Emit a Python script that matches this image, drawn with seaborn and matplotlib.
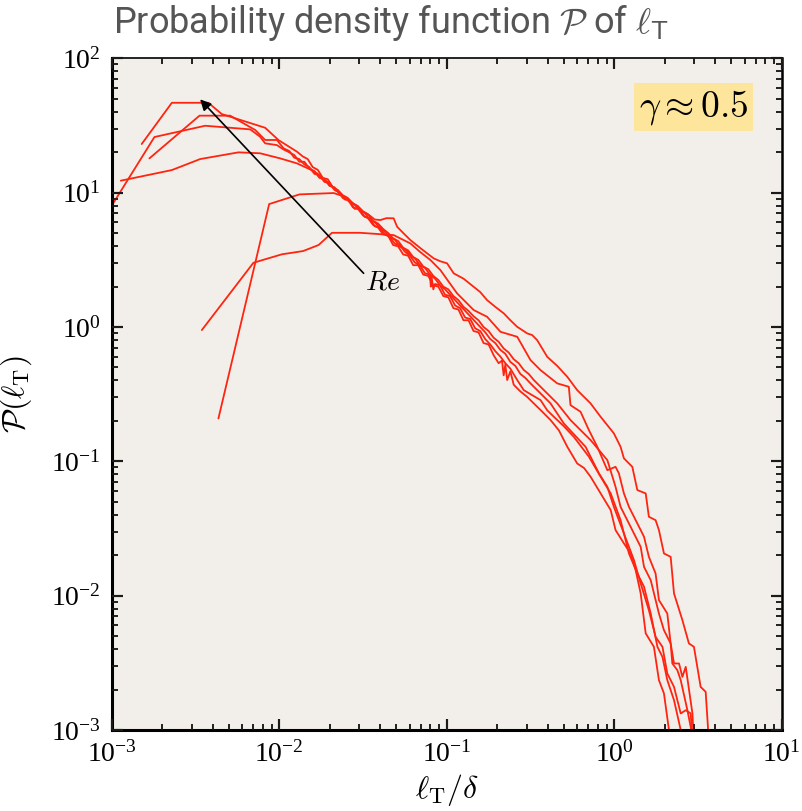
import numpy as np
import pandas as pd
import seaborn as sns
import matplotlib.pyplot as plt
from matplotlib.collections import LineCollection
from matplotlib.ticker import LogLocator, NullFormatter

# ---- data: (log10(l_T/delta), log10(P)) pairs ----
curve_A = [(-2.821, 1.362), (-2.641, 1.669), (-2.423, 1.669), (-2.343, 1.585), (-2.084, 1.483),
           (-2.004, 1.391), (-1.894, 1.305), (-1.86, 1.27), (-1.83, 1.25), (-1.80, 1.19), (-1.77, 1.17),
           (-1.74, 1.11), (-1.71, 1.10), (-1.68, 1.04), (-1.65, 1.01), (-1.62, 0.96), (-1.59, 0.95),
           (-1.56, 0.89), (-1.53, 0.88), (-1.50, 0.83), (-1.47, 0.81), (-1.44, 0.76), (-1.41, 0.74),
           (-1.38, 0.69), (-1.35, 0.68), (-1.32, 0.61), (-1.29, 0.60), (-1.26, 0.54), (-1.23, 0.53),
           (-1.20, 0.46), (-1.17, 0.46), (-1.14, 0.39), (-1.11, 0.38), (-1.08, 0.31), (-1.05, 0.30),
           (-1.02, 0.23), (-0.99, 0.22), (-0.96, 0.14), (-0.93, 0.13), (-0.90, 0.05), (-0.87, 0.05),
           (-0.84, -0.03), (-0.81, -0.04), (-0.78, -0.12), (-0.75, -0.13), (-0.72, -0.21), (-0.69, -0.27),
           (-0.67, -0.25), (-0.66, -0.36), (-0.65, -0.28), (-0.639, -0.395), (-0.62, -0.33), (-0.60, -0.43),
           (-0.56, -0.48), (-0.52, -0.52), (-0.480, -0.569), (-0.43, -0.63), (-0.380, -0.693), (-0.33, -0.77),
           (-0.280, -0.892), (-0.221, -1.016), (-0.18, -1.05), (-0.141, -1.115), (-0.081, -1.239),
           (-0.021, -1.363), (0.008, -1.512), (0.058, -1.611), (0.098, -1.686), (0.128, -1.810),
           (0.158, -1.984), (0.188, -2.281), (0.237, -2.381), (0.267, -2.629), (0.297, -2.728),
           (0.327, -3.001), (0.335, -3.1)]

curve_B = [(-2.775, 1.255), (-2.476, 1.573), (-2.293, 1.573), (-2.213, 1.516), (-2.143, 1.466),
           (-2.084, 1.392), (-2.014, 1.392), (-1.974, 1.330), (-1.94, 1.31), (-1.91, 1.26), (-1.88, 1.25),
           (-1.85, 1.21), (-1.82, 1.19), (-1.79, 1.14), (-1.76, 1.13), (-1.73, 1.08), (-1.70, 1.07),
           (-1.67, 1.02), (-1.64, 1.00), (-1.61, 0.95), (-1.58, 0.94), (-1.55, 0.88), (-1.52, 0.88),
           (-1.49, 0.82), (-1.46, 0.81), (-1.43, 0.75), (-1.40, 0.74), (-1.37, 0.69), (-1.34, 0.67),
           (-1.31, 0.62), (-1.28, 0.61), (-1.25, 0.56), (-1.22, 0.53), (-1.19, 0.48), (-1.16, 0.46),
           (-1.13, 0.40), (-1.10, 0.39), (-1.095, 0.30), (-1.09, 0.37), (-1.08, 0.28), (-1.07, 0.32),
           (-1.04, 0.31), (-1.01, 0.24), (-0.98, 0.23), (-0.95, 0.16), (-0.92, 0.14), (-0.89, 0.07),
           (-0.86, 0.06), (-0.83, -0.01), (-0.80, -0.03), (-0.77, -0.09), (-0.74, -0.13), (-0.71, -0.18),
           (-0.68, -0.22), (-0.65, -0.27), (-0.62, -0.31), (-0.579, -0.395), (-0.54, -0.47), (-0.50, -0.50),
           (-0.440, -0.544), (-0.40, -0.62), (-0.360, -0.669), (-0.30, -0.74), (-0.241, -0.818),
           (-0.151, -0.966), (-0.081, -1.115), (-0.021, -1.239), (0.038, -1.438), (0.088, -1.686),
           (0.138, -1.835), (0.178, -1.934), (0.218, -2.133), (0.258, -2.381), (0.288, -2.456),
           (0.317, -2.629), (0.357, -2.778), (0.397, -3.0), (0.40, -3.1)]

curve_C = [(-3.01, 0.883), (-2.745, 1.414), (-2.442, 1.498), (-2.173, 1.471), (-2.114, 1.416),
           (-2.084, 1.367), (-2.014, 1.354), (-1.975, 1.322), (-1.94, 1.30), (-1.91, 1.28), (-1.88, 1.23),
           (-1.85, 1.23), (-1.82, 1.18), (-1.79, 1.16), (-1.76, 1.11), (-1.73, 1.10), (-1.70, 1.05),
           (-1.67, 1.04), (-1.64, 0.99), (-1.61, 0.97), (-1.58, 0.93), (-1.55, 0.91), (-1.52, 0.87),
           (-1.49, 0.85), (-1.46, 0.80), (-1.43, 0.78), (-1.40, 0.74), (-1.37, 0.71), (-1.34, 0.67),
           (-1.31, 0.65), (-1.28, 0.60), (-1.25, 0.58), (-1.22, 0.54), (-1.19, 0.51), (-1.16, 0.46),
           (-1.13, 0.44), (-1.10, 0.39), (-1.07, 0.36), (-1.04, 0.31), (-1.01, 0.28), (-0.98, 0.24),
           (-0.95, 0.20), (-0.92, 0.16), (-0.89, 0.12), (-0.86, 0.08), (-0.83, 0.04), (-0.80, 0.00),
           (-0.77, -0.04), (-0.74, -0.09), (-0.71, -0.12), (-0.68, -0.17), (-0.65, -0.20), (-0.62, -0.26),
           (-0.59, -0.29), (-0.56, -0.35), (-0.53, -0.38), (-0.500, -0.420), (-0.380, -0.569),
           (-0.301, -0.718), (-0.171, -0.892), (-0.091, -1.090), (-0.041, -1.190), (-0.002, -1.339),
           (0.058, -1.537), (0.118, -1.736), (0.158, -1.909), (0.207, -2.108), (0.247, -2.307),
           (0.288, -2.381), (0.317, -2.579), (0.357, -2.679), (0.397, -2.877), (0.427, -2.853),
           (0.457, -2.877), (0.467, -3.1)]

curve_D = [(-2.946, 1.089), (-2.641, 1.168), (-2.472, 1.250), (-2.243, 1.300), (-2.114, 1.293),
           (-1.994, 1.255), (-1.894, 1.218), (-1.795, 1.161), (-1.77, 1.14), (-1.74, 1.10), (-1.71, 1.08),
           (-1.68, 1.04), (-1.65, 1.02), (-1.62, 0.98), (-1.59, 0.96), (-1.56, 0.92), (-1.53, 0.90),
           (-1.50, 0.86), (-1.47, 0.84), (-1.44, 0.79), (-1.41, 0.77), (-1.38, 0.73), (-1.35, 0.70),
           (-1.32, 0.66), (-1.29, 0.64), (-1.26, 0.59), (-1.23, 0.57), (-1.20, 0.52), (-1.17, 0.50),
           (-1.14, 0.45), (-1.11, 0.43), (-1.08, 0.38), (-1.05, 0.35), (-1.02, 0.30), (-0.99, 0.28),
           (-0.96, 0.23), (-0.93, 0.20), (-0.90, 0.15), (-0.87, 0.12), (-0.84, 0.08), (-0.81, 0.05),
           (-0.78, 0.00), (-0.75, -0.03), (-0.72, -0.08), (-0.69, -0.11), (-0.66, -0.16), (-0.63, -0.19),
           (-0.60, -0.24), (-0.57, -0.27), (-0.54, -0.32), (-0.51, -0.35), (-0.480, -0.395),
           (-0.340, -0.569), (-0.261, -0.693), (-0.141, -0.842), (-0.041, -0.991), (0.008, -1.190),
           (0.038, -1.339), (0.098, -1.488), (0.158, -1.637), (0.178, -1.786), (0.218, -1.885),
           (0.267, -2.133), (0.297, -2.257), (0.337, -2.356), (0.347, -2.505), (0.377, -2.555),
           (0.397, -2.629), (0.437, -2.853), (0.476, -3.1)]

curve_E = [(-2.363, -0.681), (-2.060, 0.915), (-1.879, 0.987), (-1.675, 0.997), (-1.606, 0.969),
           (-1.57, 0.93), (-1.536, 0.90), (-1.50, 0.86), (-1.46, 0.83), (-1.43, 0.80), (-1.396, 0.796),
           (-1.36, 0.81), (-1.317, 0.809), (-1.296, 0.746), (-1.26, 0.70), (-1.217, 0.647), (-1.15, 0.58),
           (-1.078, 0.511), (-1.04, 0.49), (-0.998, 0.474), (-0.958, 0.399), (-0.90, 0.36), (-0.839, 0.299),
           (-0.80, 0.26), (-0.759, 0.200), (-0.71, 0.15), (-0.659, 0.101), (-0.62, 0.05), (-0.579, 0.001),
           (-0.519, -0.048), (-0.49, -0.06), (-0.460, -0.098), (-0.400, -0.222), (-0.34, -0.29),
           (-0.280, -0.371), (-0.221, -0.470), (-0.141, -0.569), (-0.081, -0.669), (-0.002, -0.792),
           (0.038, -0.892), (0.058, -0.978), (0.108, -1.041), (0.138, -1.214), (0.188, -1.239),
           (0.207, -1.413), (0.247, -1.438), (0.267, -1.512), (0.297, -1.686), (0.337, -1.711),
           (0.357, -1.984), (0.407, -2.182), (0.446, -2.356), (0.476, -2.381), (0.516, -2.679),
           (0.546, -2.716), (0.566, -3.1)]

curve_F = [(-2.462, -0.023), (-2.154, 0.478), (-1.984, 0.541), (-1.858, 0.565), (-1.765, 0.610),
           (-1.685, 0.701), (-1.516, 0.701), (-1.317, 0.684), (-1.217, 0.622), (-1.16, 0.56),
           (-1.097, 0.498), (-1.038, 0.424), (-0.99, 0.34), (-0.938, 0.250), (-0.89, 0.19),
           (-0.839, 0.126), (-0.759, 0.076), (-0.679, -0.036), (-0.579, -0.073), (-0.500, -0.246),
           (-0.440, -0.321), (-0.340, -0.420), (-0.271, -0.445), (-0.261, -0.582), (-0.201, -0.631),
           (-0.151, -0.768), (-0.101, -0.892), (-0.041, -1.066), (0.008, -1.041), (0.028, -1.090),
           (0.058, -1.239), (0.088, -1.339), (0.158, -1.512), (0.178, -1.562), (0.207, -1.711),
           (0.247, -1.835), (0.267, -2.033), (0.317, -2.133), (0.337, -2.356), (0.357, -2.505),
           (0.387, -2.505), (0.407, -2.605), (0.427, -2.530), (0.467, -2.877), (0.476, -3.1)]

curves = {"A": curve_A, "B": curve_B, "C": curve_C, "D": curve_D, "E": curve_E, "F": curve_F}

title_text = r"Probability density function $\mathcal{P}$ of $\ell_\mathsf{T}$"
x_label = r"$\ell_\mathrm{T}/\delta$"
y_label = r"$\mathcal{P}(\ell_\mathrm{T})$"
gamma_label = r"$\gamma \approx 0.5$"
arrow_label = r"$Re$"

rows = []
for name, pts in curves.items():
    for i, (lx, ly) in enumerate(pts):
        rows.append({"curve": name, "order": i, "x": 10.0 ** lx, "y": 10.0 ** ly})
df = pd.DataFrame(rows)

sns.set_theme(style="ticks")
plt.rcParams["font.family"] = ["Liberation Serif", "DejaVu Serif"]
plt.rcParams["mathtext.fontset"] = "cm"

fig = plt.figure(figsize=(8.02, 8.11), dpi=100)
ax = fig.add_axes([0.1393, 0.0999, 0.8354, 0.8282])
ax.set_facecolor("#f2efea")

red = "#ff2410"
sns.lineplot(data=df, x="x", y="y", hue="curve", palette={k: red for k in curves},
             estimator=None, sort=False, legend=False, linewidth=1.3, ax=ax)

ax.set_xscale("log")
ax.set_yscale("log")
ax.set_xlim(1e-3, 1e1)
ax.set_ylim(1e-3, 1e2)
ax.xaxis.set_minor_locator(LogLocator(base=10, subs=np.arange(2, 10), numticks=20))
ax.yaxis.set_minor_locator(LogLocator(base=10, subs=np.arange(2, 10), numticks=20))
ax.xaxis.set_minor_formatter(NullFormatter())
ax.yaxis.set_minor_formatter(NullFormatter())

ax.tick_params(which="both", direction="in", bottom=True, left=True, top=True, right=True,
               color="#1a1a1a", width=1.5)
ax.tick_params(which="major", length=8, labelsize=20, pad=8, labelcolor="black")
ax.tick_params(which="minor", length=4.5, width=1.1)

for side, lw in [("left", 2.2), ("bottom", 2.2), ("top", 1.2), ("right", 1.8)]:
    ax.spines[side].set_color("black")
    ax.spines[side].set_linewidth(lw)

ax.set_xlabel(x_label, fontsize=23, labelpad=3, color="black")
ax.set_ylabel(y_label, fontsize=23, labelpad=12, color="black")

fig.text(0.141, 0.972, title_text, fontsize=26, color="#555555", va="center", ha="left",
         family=["Roboto", "DejaVu Sans"])

ax.text(0.950, 0.927, gamma_label, transform=ax.transAxes, fontsize=27, ha="right", va="center",
        color="black", bbox=dict(boxstyle="square,pad=0.12", fc="#fde69c", ec="none"))

ax.annotate("", xy=(0.00337, 49.5), xytext=(0.0319, 2.51),
            arrowprops=dict(arrowstyle="-|>", color="black", lw=1.2, mutation_scale=16,
                            shrinkA=0, shrinkB=0))
ax.text(0.0413, 2.12, arrow_label, fontsize=20, ha="center", va="center", color="black")

# explicit inward tick marks on all four sides, placed at the axes' own locator positions
fig.canvas.draw()
x0, x1 = ax.get_xlim()
y0, y1 = ax.get_ylim()
xmaj = [v for v in ax.xaxis.get_majorticklocs() if x0 <= v <= x1]
xmin = [v for v in ax.xaxis.get_minorticklocs() if x0 <= v <= x1]
ymaj = [v for v in ax.yaxis.get_majorticklocs() if y0 <= v <= y1]
ymin = [v for v in ax.yaxis.get_minorticklocs() if y0 <= v <= y1]
maj_len, min_len = 0.0165, 0.009
tick_col = "#1a1a1a"
for locs, L, lw in ((xmaj, maj_len, 1.5), (xmin, min_len, 1.1)):
    segs = [[(v, 0), (v, L)] for v in locs] + [[(v, 1 - L), (v, 1)] for v in locs]
    ax.add_collection(LineCollection(segs, transform=ax.get_xaxis_transform(), colors=tick_col,
                                     linewidths=lw, clip_on=False, zorder=5), autolim=False)
for locs, L, lw in ((ymaj, maj_len, 1.5), (ymin, min_len, 1.1)):
    segs = [[(0, v), (L, v)] for v in locs] + [[(1 - L, v), (1, v)] for v in locs]
    ax.add_collection(LineCollection(segs, transform=ax.get_yaxis_transform(), colors=tick_col,
                                     linewidths=lw, clip_on=False, zorder=5), autolim=False)

fig.savefig("out.png", dpi=100)
